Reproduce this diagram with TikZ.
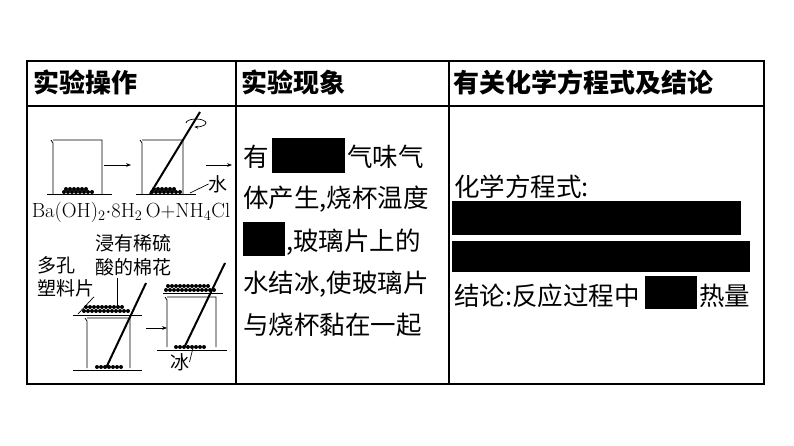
\documentclass[tikz,border=0pt]{standalone}
\usepackage{fontspec}
\newfontfamily\cjk{Noto Sans CJK SC}
\usepackage{tikz}
\usetikzlibrary{arrows.meta}

\begin{document}
\begin{tikzpicture}[x=1pt,y=-1pt,inner sep=0pt,outer sep=0pt,
	cell/.style={font=\cjk\fontsize{25.5}{26}\selectfont,anchor=west},
	head/.style={font=\cjk\bfseries\fontsize{26}{26}\selectfont,anchor=west},
	small/.style={font=\cjk\fontsize{19}{19}\selectfont},
	blank/.style={fill=black}]
	\useasboundingbox (0,0) rectangle (794,446);
	% table
	\draw[line width=2.5pt] (27,61) rectangle (764,384);
	\draw[line width=1.6pt] (27,106)--(764,106);
	\draw[line width=1.6pt] (236,61)--(236,384);
	\draw[line width=1.6pt] (449,61)--(449,384);
	\node[head] (h1) at (33,82) {实验操作};
	\node[head] (h2) at (241,82) {实验现象};
	\node[head] (h3) at (453,82) {有关化学方程式及结论};
	% middle column
	\node[cell] (m1) at (243,157) {有};
	\node[cell] (m1b) at (347,157) {气味气};
	\node[cell] (m2) at (243,199) {体产生,烧杯温度};
	\node[cell] (m3) at (286,242) {,玻璃片上的};
	\node[cell] (m4) at (243,284) {水结冰,使玻璃片};
	\node[cell] (m5) at (243,325) {与烧杯黏在一起};
	\fill[blank] (272,138) rectangle (345,173);
	\fill[blank] (243,222) rectangle (285,256);
	% right column
	\node[cell] (r1) at (454,187) {化学方程式:};
	\fill[blank] (452,201) rectangle (741,235);
	\fill[blank] (452,241) rectangle (750,272);
	\node[cell] (r2) at (454,296) {结论:反应过程中};
	\node[cell] (r2b) at (699,296) {热量};
	\fill[blank] (645,276) rectangle (697,309);
	% top apparatus
	\begin{scope}[line width=0.7pt]
	\draw (51,140)--(53,143)--(53,195) (53,140)--(102,140)--(102,195);
	\draw (140,140)--(142,143)--(142,195) (142,140)--(183,140)--(183,195);
	\draw[line width=1pt] (47,195)--(112,195) (136,195)--(196,195);
	\draw[line width=2pt] (150,194)--(200,112);
	\draw[-{Stealth[length=4pt]}] (186,123) arc[start angle=180,end angle=-100,x radius=10pt,y radius=4pt];
	\draw[-{Stealth[length=5pt]}] (104,165)--(131,165);
	\draw[-{Stealth[length=5pt]}] (206,165)--(232,165);
	\foreach \i in {0,...,7} \fill (64+4*\i,192) circle (2pt) (152+4*\i,192) circle (2pt);
	\foreach \i in {0,...,5} \fill (66+4*\i,189) circle (2pt) (154+4*\i,189) circle (2pt);
	\node[small] (water) at (218,184) {水};
	\draw (water.west)--(190,193);
	\node[font=\fontsize{20.5}{21}\selectfont] (eq) at (131,212) {Ba(OH)$_2$$\cdot$8H$_2$\,O+NH$_4$Cl};
	% bottom apparatus
	\node[small,anchor=west] (l1) at (95,243) {浸有稀硫};
	\node[small,anchor=west] (l2) at (95,267) {酸的棉花};
	\node[small,anchor=west] (l3) at (37,265) {多孔};
	\node[small,anchor=west] (l4) at (37,288) {塑料片};
	\draw[line width=1pt] (73,315)--(142,315);
	\foreach \i in {0,...,11} \fill (84+4*\i,311) circle (2pt);
	\foreach \i in {0,...,9} \fill (86+4*\i,307) circle (2pt);
	\draw (117,278)--(117,307);
	\draw (l4.south east)--(78,314);
	\draw (85,318)--(87,321)--(87,368) (87,318)--(130,318)--(130,368);
	\draw[line width=1pt] (73,370)--(142,370);
	\foreach \i in {0,...,6} \fill (97+4*\i,367) circle (2pt);
	\draw[line width=2pt] (106,368)--(146,283);
	\draw[-{Stealth[length=5pt]}] (146,328)--(167,328);
	\draw[line width=1pt] (163,293)--(223,293);
	\foreach \i in {0,...,12} \fill (166+4*\i,290) circle (2pt);
	\foreach \i in {0,...,10} \fill (168+4*\i,286) circle (2pt);
	\draw (165,297)--(167,300)--(167,347) (167,297)--(216,297)--(216,347);
	\draw[line width=1pt] (157,350)--(227,350);
	\foreach \i in {0,...,7} \fill (176+4*\i,347) circle (2pt);
	\draw[line width=2pt] (185,346)--(225,263);
	\node[small] (ice) at (180,362) {冰};
	\draw (ice.east)--(193,348);
	\end{scope}
\end{tikzpicture}
\end{document}
